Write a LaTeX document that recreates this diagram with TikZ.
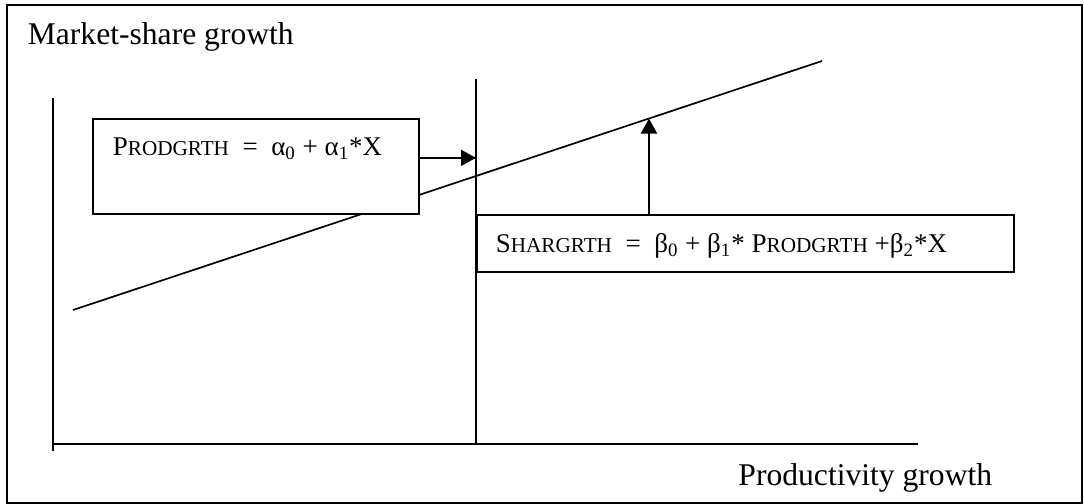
\documentclass[tikz,border=0pt]{standalone}
\usepackage{fontspec}
\setmainfont{Liberation Serif}
\usepackage{tikz}
\usetikzlibrary{arrows.meta, positioning}
\newcommand\capsc[2]{#1{\fontsize{10.6pt}{12pt}\selectfont #2}}

\begin{document}
\begin{tikzpicture}[x=0.5pt, y=-0.5pt, >={Triangle[length=7.5pt,width=8pt]}, line width=0.85pt,
  eqbox/.style={rectangle, draw, fill=white, anchor=north west, inner sep=0pt},
  eqtext/.style={anchor=base west, inner sep=0pt, font=\fontsize{13.5pt}{16pt}\selectfont},
  axislabel/.style={inner sep=0pt, font=\fontsize{15.8pt}{18pt}\selectfont}]
  \useasboundingbox (0,0) rectangle (1084,504);
  \draw[line width=1pt] (7,5) rectangle (1082,503);
  % axes and the divider
  \coordinate (ytop) at (53,98);
  \coordinate (ybot) at (53,451);
  \coordinate (origin) at (53,444);
  \coordinate (xend) at (918,444);
  \coordinate (divtop) at (476,79);
  \coordinate (divbot) at (476,444);
  \draw (ytop) -- (ybot);
  \draw (origin) -- (xend);
  \draw (divtop) -- (divbot);
  \coordinate (linestart) at (73,310);
  \coordinate (lineend) at (822,61);
  \draw (linestart) -- (lineend) coordinate[pos=0.769] (hit);
  \node[axislabel, anchor=base west] (ylabel) at (27,44) {Market-share growth};
  \node[axislabel, anchor=base east] (xlabel) at (993,485) {Productivity growth};
  % equations
  \node[eqbox, minimum width=163pt, minimum height=47.5pt] (prodbox) at (92,118) {};
  \node[eqtext] (prodtext) at (112,155) {\capsc{P}{RODGRTH}\ \ =\ \ α\textsubscript{0} + α\textsubscript{1}*X};
  \node[eqbox, minimum width=268.5pt, minimum height=28.5pt] (sharbox) at (476,214) {};
  \node[eqtext] (shartext) at (495,252) {\capsc{S}{HARGRTH}\ \ =\ \ β\textsubscript{0} + β\textsubscript{1}* \capsc{P}{RODGRTH} +β\textsubscript{2}*X};
  \draw[->] ([yshift=4.25pt]prodbox.east) -- ([yshift=4.25pt]prodbox.east -| divbot);
  \draw[->] (hit |- sharbox.north) -- (hit);
\end{tikzpicture}
\end{document}
